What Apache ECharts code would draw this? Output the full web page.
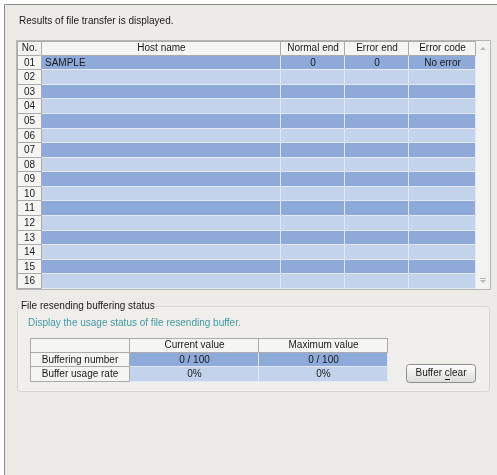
<!DOCTYPE html>
<html>
<head>
<meta charset="utf-8">
<script src="https://cdn.jsdelivr.net/npm/echarts@6/dist/echarts.min.js"></script>
<style>
html, body { margin: 0; padding: 0; background: #fff; }
#chart { width: 497px; height: 475px; }
</style>
</head>
<body>
<div id="chart"></div>
<script>
// transfer result list
const columnNames = ['No.', 'Host name', 'Normal end', 'Error end', 'Error code'];
const rowNos = ['01', '02', '03', '04', '05', '06', '07', '08', '09', '10', '11', '12', '13', '14', '15', '16'];
const hostNames = ['SAMPLE', '', '', '', '', '', '', '', '', '', '', '', '', '', '', ''];
const normalEnds = ['0', '', '', '', '', '', '', '', '', '', '', '', '', '', '', ''];
const errorEnds = ['0', '', '', '', '', '', '', '', '', '', '', '', '', '', '', ''];
const errorCodes = ['No error', '', '', '', '', '', '', '', '', '', '', '', '', '', '', ''];

// resend buffer table
const bufferColumns = ['', 'Current value', 'Maximum value'];
const bufferRows = ['Buffering number', 'Buffer usage rate'];
const currentValues = ['0 / 100', '0%'];
const maximumValues = ['0 / 100', '0%'];

const FONT = '10px "Liberation Sans", Arial, sans-serif';
const darkRow = '#8eaad9';
const lightRow = '#c4d3ec';
const headFill = '#f5f5f3';
const headLine = '#ababab';

const chart = echarts.init(document.getElementById('chart'));

// one grid per column, rows come from a category y axis
const listCols = [
  { left: 17, width: 25, align: 'center', values: rowNos },
  { left: 42, width: 239, align: 'left', values: hostNames },
  { left: 281, width: 64, align: 'center', values: normalEnds },
  { left: 345, width: 64, align: 'center', values: errorEnds },
  { left: 409, width: 67, align: 'center', values: errorCodes }
];
const bufCols = [
  { left: 30, width: 100, align: 'center', values: bufferRows },
  { left: 130, width: 129, align: 'center', values: currentValues },
  { left: 259, width: 129, align: 'center', values: maximumValues }
];

let grids = [], xAxes = [], yAxes = [], series = [];

function addTable(cols, heads, top, height) {
  cols.forEach((col, c) => {
    const idx = grids.length;
    const texts = [heads[c]].concat(col.values);
    const cats = texts.map((t, i) => 'r' + i);
    grids.push({ left: col.left, width: col.width, top: top, height: height });
    xAxes.push({ type: 'category', gridIndex: idx, data: [heads[c] || 'c'], show: false });
    yAxes.push({ type: 'category', gridIndex: idx, data: cats, inverse: true, show: false });
    series.push({
      type: 'custom',
      xAxisIndex: idx,
      yAxisIndex: idx,
      silent: true,
      data: texts.map((t, r) => [0, r]),
      renderItem: function (params, api) {
        const r = api.value(1);
        const p = api.coord([0, r]);
        const s = api.size([1, 1]);
        const x0 = Math.round(p[0] - s[0] / 2);
        const y0 = Math.round(p[1] - s[1] / 2);
        const x1 = Math.round(p[0] + s[0] / 2);
        const y1 = Math.round(p[1] + s[1] / 2);
        const isHead = r === 0 || c === 0;
        const children = [];
        children.push({
          type: 'rect',
          shape: { x: x0, y: y0, width: x1 - x0, height: y1 - y0 },
          style: { fill: isHead ? headFill : (r % 2 === 1 ? darkRow : lightRow) }
        });
        const lc = isHead ? headLine : '#e2e9f5';
        children.push({
          type: 'polyline',
          shape: { points: [[x1 - 0.5, y0], [x1 - 0.5, y1 - 0.5], [x0, y1 - 0.5]] },
          style: { stroke: lc, lineWidth: 1, fill: null }
        });
        if (isHead && r === 0) {
          children.push({ type: 'line', shape: { x1: x0, y1: y0 + 0.5, x2: x1, y2: y0 + 0.5 }, style: { stroke: headLine, lineWidth: 1 } });
        }
        if (isHead && c === 0) {
          children.push({ type: 'line', shape: { x1: x0 + 0.5, y1: y0, x2: x0 + 0.5, y2: y1 }, style: { stroke: headLine, lineWidth: 1 } });
        }
        const t = texts[params.dataIndex];
        const left = col.align === 'left' && !isHead;
        children.push({
          type: 'text',
          style: {
            text: t,
            x: left ? x0 + 3 : (x0 + x1) / 2,
            y: (y0 + y1) / 2,
            align: left ? 'left' : 'center',
            verticalAlign: 'middle',
            font: FONT,
            fill: '#1a1a1a'
          }
        });
        return { type: 'group', children: children };
      }
    });
  });
}

addTable(listCols, columnNames, 41, 248);
addTable(bufCols, bufferColumns, 338, 44);

const option = {
  backgroundColor: '#ffffff',
  animation: false,
  grid: grids,
  xAxis: xAxes,
  yAxis: yAxes,
  series: series,
  graphic: [
    // dialog face
    { type: 'rect', z: -10, shape: { x: 4, y: 4, width: 493, height: 471 }, style: { fill: '#ecebe8' } },
    { type: 'polyline', z: -9, shape: { points: [[4.5, 475], [4.5, 4.5], [497, 4.5]] }, style: { stroke: '#8a8a8a', lineWidth: 1, fill: null } },
    { type: 'text', style: { text: 'Results of file transfer is displayed.', x: 19, y: 21, verticalAlign: 'middle', font: FONT, fill: '#1a1a1a' } },
    // list frame + scrollbar
    { type: 'rect', z: -5, shape: { x: 476, y: 41, width: 14, height: 248 }, style: { fill: '#f3f3f1' } },
    { type: 'rect', z: -5, shape: { x: 16.5, y: 40.5, width: 474, height: 249 }, style: { fill: null, stroke: '#b5b5b2', lineWidth: 1 } },
    { type: 'polygon', shape: { points: [[480, 50], [486, 50], [483, 47]] }, style: { fill: '#b8b8b8' } },
    { type: 'polygon', shape: { points: [[480, 280], [486, 280], [483, 283]] }, style: { fill: '#b8b8b8' } },
    { type: 'line', shape: { x1: 480, y1: 278.5, x2: 486, y2: 278.5 }, style: { stroke: '#b8b8b8', lineWidth: 1 } },
    // group box
    { type: 'rect', z: -5, shape: { x: 17.5, y: 306.5, width: 472, height: 85, r: 3 }, style: { fill: '#f0efec', stroke: '#d6d6d0', lineWidth: 1 } },
    { type: 'text', style: { text: 'File resending buffering status', x: 20, y: 306, verticalAlign: 'middle', font: FONT, fill: '#1a1a1a', backgroundColor: '#ecebe8', padding: [0, 1] } },
    { type: 'text', style: { text: 'Display the usage status of file resending buffer.', x: 28, y: 323, verticalAlign: 'middle', font: FONT, fill: '#3f9aa2' } },
    // button
    {
      type: 'rect', shape: { x: 406.5, y: 364.5, width: 69, height: 18, r: 3 },
      style: {
        stroke: '#8c8c8c', lineWidth: 1,
        fill: new echarts.graphic.LinearGradient(0, 0, 0, 1, [
          { offset: 0, color: '#ffffff' },
          { offset: 1, color: '#dadad6' }
        ])
      }
    },
    { type: 'text', style: { text: 'Buffer clear', x: 441, y: 373.5, align: 'center', verticalAlign: 'middle', font: FONT, fill: '#1a1a1a' } },
    { type: 'line', shape: { x1: 445, y1: 379.5, x2: 450, y2: 379.5 }, style: { stroke: '#1a1a1a', lineWidth: 1 } }
  ]
};

chart.setOption(option);
</script>
</body>
</html>
